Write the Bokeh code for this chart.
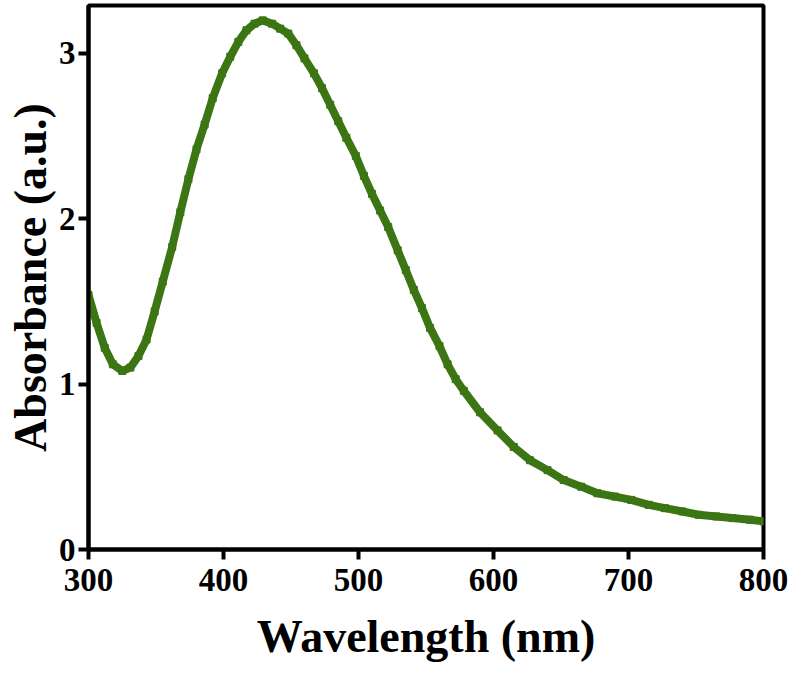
from bokeh.plotting import figure
from bokeh.models import Range1d, FixedTicker
from bokeh.embed import file_html
from bokeh.resources import INLINE

wavelength = [300, 306, 312, 318, 325, 331, 337, 343, 349, 355, 362, 368, 374, 380,
              386, 392, 399, 405, 411, 417, 423, 429, 436, 442, 448, 454, 460, 467,
              473, 479, 485, 491, 498, 504, 510, 516, 522, 529, 535, 541, 547, 553,
              560, 566, 572, 578, 590, 603, 615, 627, 640, 652, 665, 677, 690, 702,
              715, 727, 740, 752, 765, 777, 790, 800]
absorbance = [1.54, 1.37, 1.22, 1.12, 1.08, 1.10, 1.17, 1.27, 1.44, 1.62, 1.83, 2.04,
              2.24, 2.42, 2.57, 2.73, 2.88, 2.98, 3.07, 3.14, 3.18, 3.20, 3.18, 3.15,
              3.12, 3.05, 2.97, 2.88, 2.79, 2.69, 2.59, 2.49, 2.38, 2.26, 2.15, 2.05,
              1.95, 1.81, 1.69, 1.57, 1.46, 1.34, 1.23, 1.12, 1.03, 0.96, 0.83, 0.72,
              0.62, 0.54, 0.48, 0.42, 0.38, 0.34, 0.32, 0.30, 0.27, 0.25, 0.23, 0.21,
              0.20, 0.19, 0.18, 0.17]
x_ticks = [300, 400, 500, 600, 700, 800]
y_ticks = [0, 1, 2, 3]

GREEN = "#3c7513"
FONT = "Liberation Serif"

p = figure(width=792, height=677, output_backend="svg", toolbar_location=None,
           x_range=Range1d(300, 800), y_range=Range1d(0, 3.29),
           min_border_left=88, min_border_right=29, min_border_top=5,
           min_border_bottom=128)

p.line(wavelength, absorbance, line_color=GREEN, line_width=8)
p.scatter(wavelength, absorbance, marker="square", size=7, color=GREEN)

p.grid.visible = False
p.outline_line_color = "black"
p.outline_line_width = 4
p.background_fill_color = "white"
p.border_fill_color = "white"

p.xaxis.ticker = FixedTicker(ticks=x_ticks)
p.yaxis.ticker = FixedTicker(ticks=y_ticks)
p.xaxis.axis_label = "Wavelength (nm)"
p.yaxis.axis_label = "Absorbance (a.u.)"

for ax in (p.xaxis, p.yaxis):
    ax.axis_line_width = 4
    ax.axis_line_color = "black"
    ax.major_tick_line_width = 4
    ax.major_tick_in = 0
    ax.major_tick_out = 10
    ax.minor_tick_line_color = None
    ax.major_label_text_font = FONT
    ax.major_label_text_font_style = "bold"
    ax.major_label_text_font_size = "33px"
    ax.major_label_text_color = "black"
    ax.axis_label_text_font = FONT
    ax.axis_label_text_font_style = "bold"
    ax.axis_label_text_font_size = "46px"
    ax.axis_label_text_color = "black"

p.xaxis.major_label_standoff = 9
p.xaxis.axis_label_standoff = 17
p.yaxis.major_label_standoff = 3
p.yaxis.axis_label_standoff = 0

open("out.html", "w").write(file_html(p, INLINE))
